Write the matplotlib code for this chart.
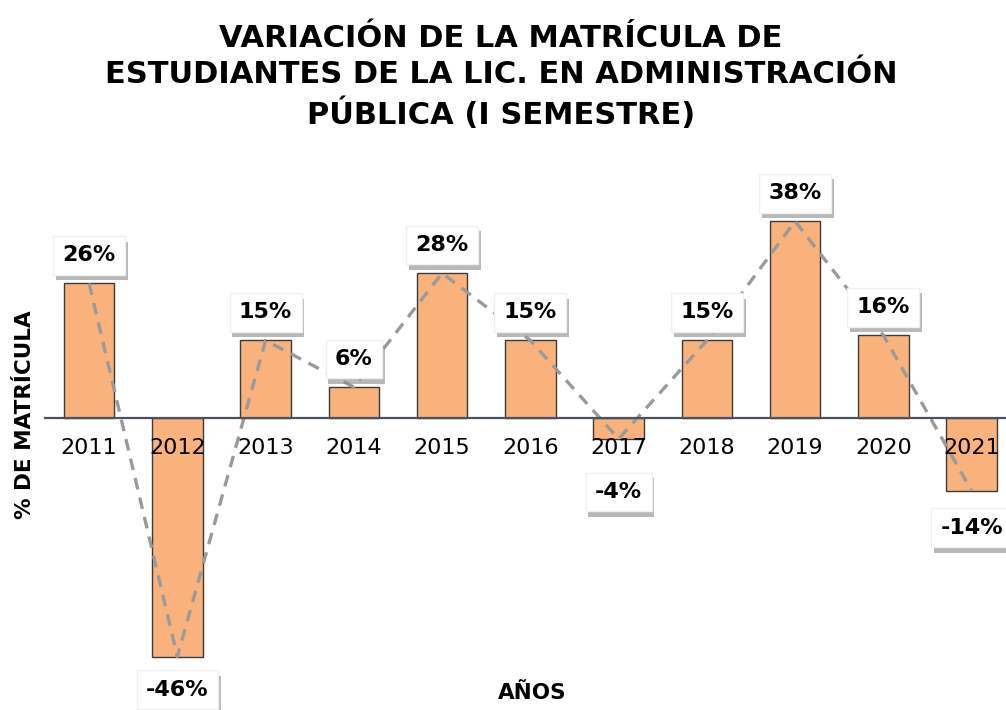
import matplotlib.pyplot as plt
import matplotlib.patheffects as pe
from matplotlib.transforms import offset_copy

plt.rcParams['font.family'] = ['DejaVu Sans']

# data
years = ['2011', '2012', '2013', '2014', '2015', '2016', '2017', '2018', '2019', '2020', '2021']
variation = [26, -46, 15, 6, 28, 15, -4, 15, 38, 16, -14]

fig = plt.figure(figsize=(10.06, 7.10), dpi=100)
ax = fig.add_axes([0.0447, 0.014, 0.965, 0.732])

x = list(range(len(years)))
ax.bar(x, variation, width=0.57, color='#F9B27C', edgecolor='#3a3a3a', linewidth=1, zorder=2)
ax.plot(x, variation, color='#9a9a9a', linestyle='--', linewidth=2.4, dashes=(3.5, 2.5), zorder=3)

ax.set_xlim(-0.5, len(years) - 0.5)
ax.set_ylim(-54.4, 45.9)

# axis line at zero with the year labels right under it (drawn over the bars)
for s in ['left', 'right', 'top']:
    ax.spines[s].set_visible(False)
ax.spines['bottom'].set_position(('data', 0))
ax.spines['bottom'].set_color('#4a5260')
ax.spines['bottom'].set_linewidth(1.6)
ax.spines['bottom'].set_zorder(4)
ax.set_xticks(x)
ax.set_xticklabels(years, fontsize=16)
ax.tick_params(axis='x', length=0, pad=14)
ax.set_yticks([])
ax.xaxis.set_zorder(5)

# value labels in white boxes with shadow
for i, v in enumerate(variation):
    if v >= 0:
        dy = 28
    else:
        dy = -33
    if years[i] == '2017':
        dy = -53
    if years[i] == '2021':
        dy = -37
    tr = offset_copy(ax.transData, fig=fig, x=0, y=dy * 0.72, units='points')
    t = ax.text(i, v, f'{v}%', transform=tr, ha='center', va='center',
                fontsize=16, fontweight='bold', zorder=6,
                bbox=dict(boxstyle='square,pad=0.42', facecolor='white', edgecolor='#f0f0f0'))
    t.get_bbox_patch().set_path_effects([pe.withSimplePatchShadow(offset=(2, -4), shadow_rgbFace='#8a8a8a', alpha=0.6)])

fig.text(0.498, 0.8915, 'VARIACIÓN DE LA MATRÍCULA DE\nESTUDIANTES DE LA LIC. EN ADMINISTRACIÓN\nPÚBLICA (I SEMESTRE)',
         ha='center', va='center', fontsize=22, fontweight='bold', linespacing=1.32)
fig.text(0.025, 0.4155, '% DE MATRÍCULA', rotation=90, ha='center', va='center',
         fontsize=15.5, fontweight='bold')
fig.text(0.529, 0.024, 'AÑOS', ha='center', va='center', fontsize=15.5, fontweight='bold')

plt.savefig('out.png', dpi=100)
